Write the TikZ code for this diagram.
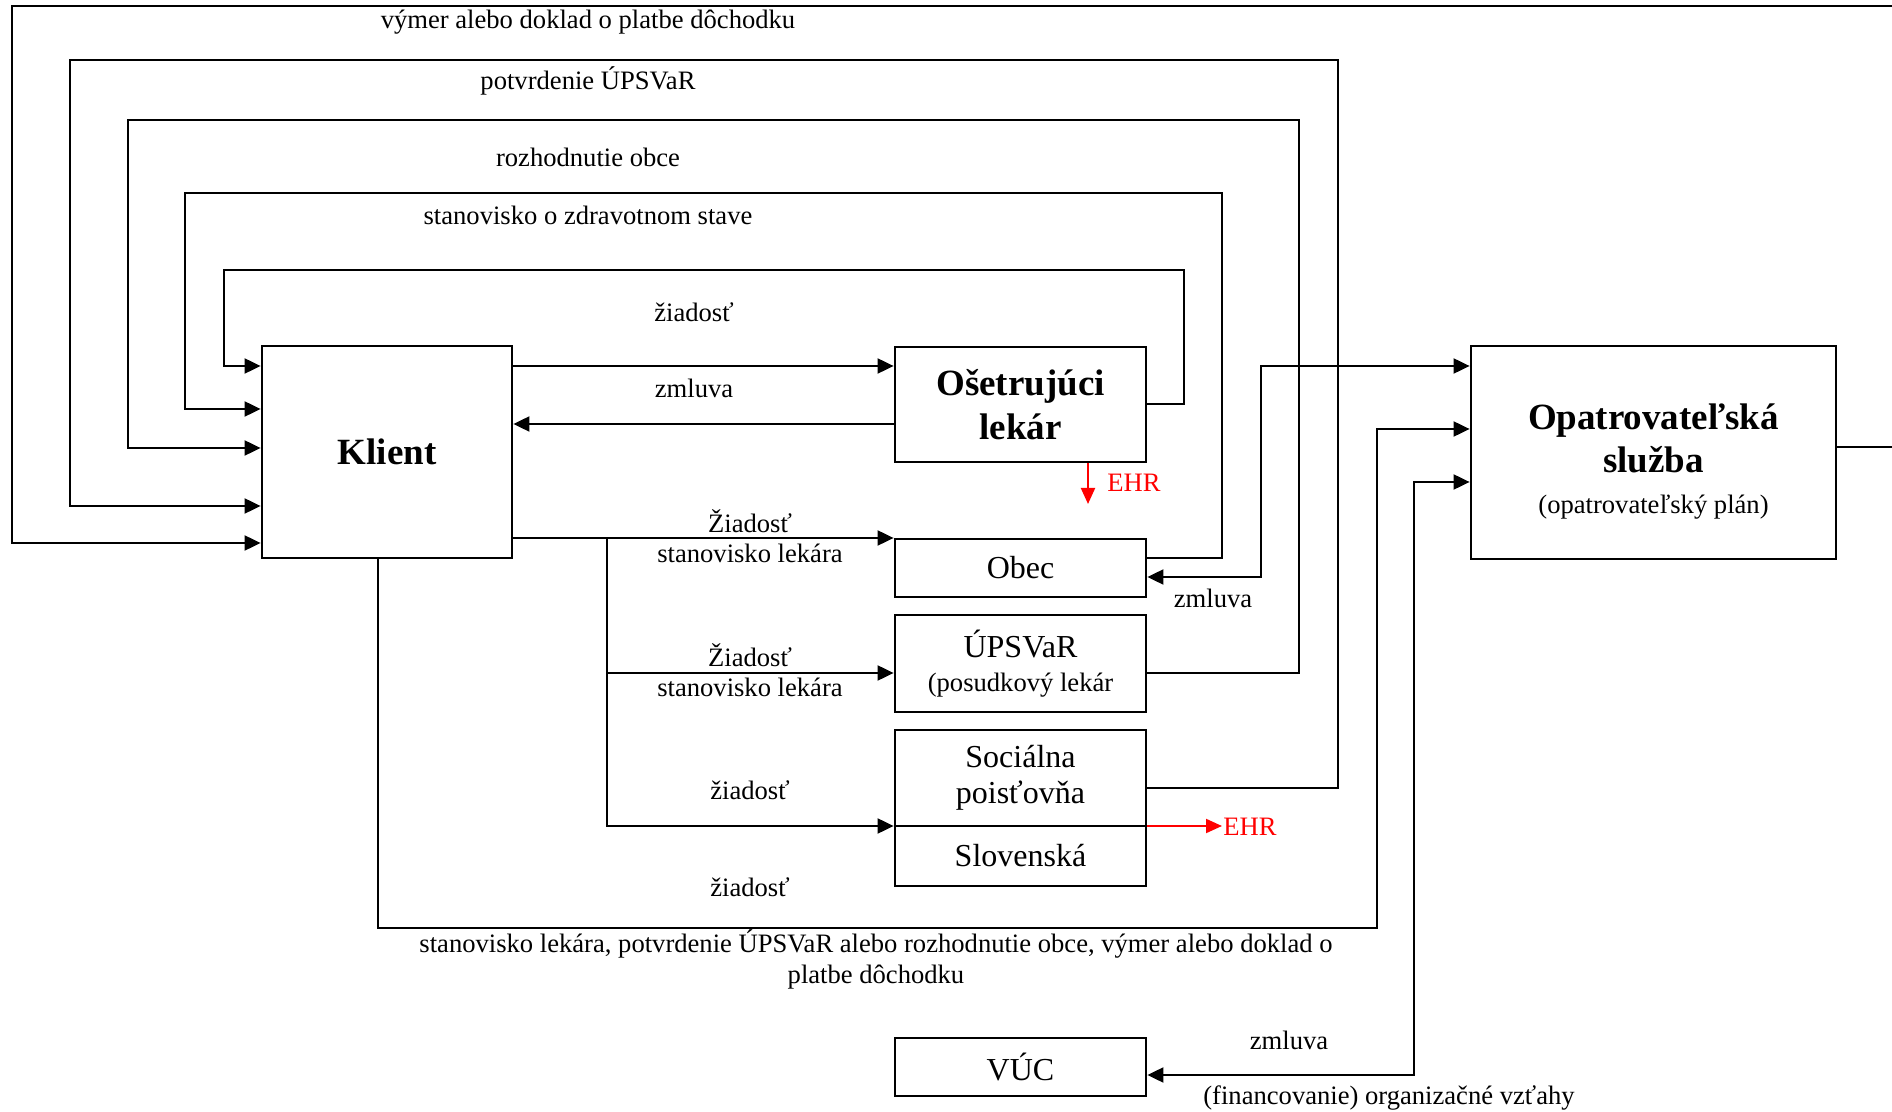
\documentclass[tikz,border=0pt]{standalone}
\usepackage{fontspec}
\setmainfont{Liberation Serif}
\usetikzlibrary{arrows.meta}
\tikzset{
  conn/.style={line width=1pt},
  arr/.style={conn,-{Triangle[length=8pt,width=7.5pt]}},
  darr/.style={conn,{Triangle[length=8pt,width=7.5pt]}-{Triangle[length=8pt,width=7.5pt]}},
  redarr/.style={line width=1pt,red,-{Triangle[length=8pt,width=7pt]}},
  box/.style={draw,line width=1.4pt,inner sep=0pt,align=center,font=\fontsize{16}{18}\selectfont},
  bbox/.style={box,font=\fontsize{18.5}{22}\selectfont\bfseries},
  lbl/.style={inner sep=0pt,align=center,font=\fontsize{13.3}{15.5}\selectfont},
}
\begin{document}
\begin{tikzpicture}[x=0.5pt,y=-0.5pt]
\useasboundingbox (0,0) rectangle (1892,1112);
\fill[white] (0,0) rectangle (1892,1112);

% boxes
\node[bbox,minimum width=125pt,minimum height=106pt] (klient) at (387,452) {\raisebox{-2.5pt}{Klient}};
\node[bbox,minimum width=125.5pt,minimum height=57.5pt] (ol) at (1020.5,404.5) {Ošetrujúci\\lekár};
\node[box,minimum width=125.5pt,minimum height=29pt] (obec) at (1020.5,568) {Obec};
\node[box,minimum width=125.5pt,minimum height=48.5pt] (upsvar) at (1020.5,663.5) {ÚPSVaR\\[-1pt]{\fontsize{13.3}{15.5}\selectfont (posudkový lekár}};
\node[box,minimum width=125.5pt,minimum height=48pt] (soc) at (1020.5,778) {Sociálna\\poisťovňa};
\node[box,minimum width=125.5pt,minimum height=30pt] (slov) at (1020.5,856) {Slovenská};
\node[box,minimum width=125.5pt,minimum height=29pt] (vuc) at (1020.5,1067) {VÚC};
\node[box,minimum width=182.5pt,minimum height=106.5pt] (opatr) at (1653.5,452.5) {};
\node[inner sep=0pt,align=center,font=\fontsize{18.5}{21.5}\selectfont\bfseries] (opatrlbl) at (1653.5,462)
  {Opatrovateľská\\služba\\[-1pt]{\fontsize{13.3}{15.5}\selectfont\mdseries (opatrovateľský plán)}};

% loops into Klient
\draw[arr] (ol.east |- 0,404) -- (1184,404) -- (1184,270) -- (224,270) -- (224,366) -- (klient.west |- 0,366);
\draw[arr] (obec.east |- 0,558) -- (1222,558) -- (1222,193) -- (185,193) -- (185,409) -- (klient.west |- 0,409);
\draw[arr] (upsvar.east |- 0,673) -- (1299,673) -- (1299,120) -- (128,120) -- (128,448) -- (klient.west |- 0,448);
\draw[arr] (soc.east |- 0,788) -- (1338,788) -- (1338,60) -- (70,60) -- (70,506) -- (klient.west |- 0,506);
\draw[arr] (opatr.east |- 0,447) -- (1900,447) -- (1900,6) -- (12,6) -- (12,543) -- (klient.west |- 0,543);

% Klient <-> lekar
\draw[arr] (klient.east |- 0,366) -- (ol.west |- 0,366);
\draw[arr] (ol.west |- 0,424) -- (klient.east |- 0,424);

% Klient -> Obec, UPSVaR, Socialna
\draw[arr] (klient.east |- 0,538) -- (obec.west |- 0,538);
\coordinate (branch) at (607,538);
\draw[arr] (branch) -- (607,826) -- (soc.south west |- 0,826);
\draw[arr] (607,673) -- (upsvar.west |- 0,673);

% Klient -> Opatrovatelska
\draw[arr] (klient.south -| 378,0) -- (378,928) -- (1377,928) -- (1377,429) -- (opatr.west |- 0,429);
% Obec <-> Opatrovatelska
\draw[darr] (obec.east |- 0,577) -- (1261,577) -- (1261,366) -- (opatr.west |- 0,366);
% VUC <-> Opatrovatelska
\draw[darr] (vuc.east |- 0,1075) -- (1414,1075) -- (1414,482) -- (opatr.west |- 0,482);

% EHR
\coordinate (ehr1end) at (1088,504);
\draw[redarr] (ol.south -| 1088,0) -- (ehr1end);
\node[lbl,text=red] (ehr1) at (1134,483) {EHR};
\coordinate (ehr2end) at (1222,826);
\draw[redarr] (soc.south east |- 0,826) -- (ehr2end);
\node[lbl,text=red,anchor=west] (ehr2) at (1223,827) {EHR};

% labels
\node[lbl] (l1) at (588,22) {výmer alebo doklad o platbe dôchodku};
\node[lbl] (l2) at (588,81) {potvrdenie ÚPSVaR};
\node[lbl] (l3) at (588,157) {rozhodnutie obce};
\node[lbl] (l4) at (588,215) {stanovisko o zdravotnom stave};
\node[lbl] (l5) at (694,312) {žiadosť};
\node[lbl] (l6) at (694,388) {zmluva};
\node[lbl] (l7) at (750,521) {Žiadosť};
\node[lbl] (l8) at (750,553) {stanovisko lekára};
\node[lbl] (l9) at (750,655) {Žiadosť};
\node[lbl] (l10) at (750,687) {stanovisko lekára};
\node[lbl] (l11) at (750,790) {žiadosť};
\node[lbl] (l12) at (750,887) {žiadosť};
\node[lbl] (l13) at (876,959) {stanovisko lekára, potvrdenie ÚPSVaR alebo rozhodnutie obce, výmer alebo doklad o\\platbe dôchodku};
\node[lbl] (l14) at (1213,598) {zmluva};
\node[lbl] (l15) at (1289,1040) {zmluva};
\node[lbl] (l16) at (1389,1098) {(financovanie) organizačné vzťahy};
\end{tikzpicture}
\end{document}
